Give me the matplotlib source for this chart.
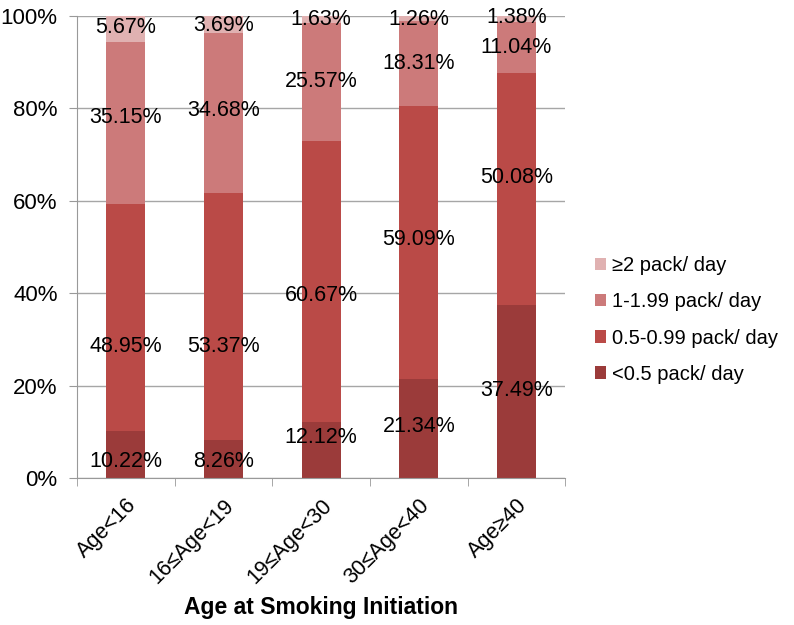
import matplotlib.pyplot as plt
import numpy as np

plt.rcParams['font.family'] = ['Liberation Sans', 'DejaVu Sans']

groups = ['Age<16', '16≤Age<19', '19≤Age<30', '30≤Age<40', 'Age≥40']
series = ['<0.5 pack/ day', '0.5-0.99 pack/ day', '1-1.99 pack/ day', '≥2 pack/ day']
lt_05 = [10.22, 8.26, 12.12, 21.34, 37.49]
p05_099 = [48.95, 53.37, 60.67, 59.09, 50.08]
p1_199 = [35.15, 34.68, 25.57, 18.31, 11.04]
ge_2 = [5.67, 3.69, 1.63, 1.26, 1.38]
colors = ['#9b3b3a', '#ba4a47', '#cc7a7a', '#e0b1b1']

# label nudges (percentage points) away from the segment centre
nudges = [
    [-1.6, -0.6, 2.8, 0.5, 0.1],
    [-6.2, -6.4, -3.0, 0.7, 2.5],
    [1.3, 0.5, 0.1, 0.1, 0.0],
    [0.2, -0.2, -0.1, -0.3, 0.3],
]

fig = plt.figure(figsize=(7.94, 6.25), dpi=100)
ax = fig.add_axes([0.097, 0.235, 0.615, 0.74])

x = np.arange(len(groups)) + 0.5
bottom = np.zeros(len(groups))
for i, vals in enumerate([lt_05, p05_099, p1_199, ge_2]):
    vals = np.array(vals)
    ax.bar(x, vals, 0.4, bottom=bottom, color=colors[i], label=series[i], zorder=2)
    for j in range(len(groups)):
        ax.text(x[j], bottom[j] + vals[j] / 2 + nudges[i][j], f'{vals[j]:.2f}%',
                ha='center', va='center', fontsize=15.5, zorder=3)
    bottom += vals

ax.set_xlim(0, len(groups))
ax.set_ylim(0, 100)
ax.set_yticks(np.arange(0, 101, 20))
ax.set_yticklabels([f'{v}%' for v in range(0, 101, 20)], fontsize=16)
ax.set_xticks(x)
ax.set_xticklabels(groups, rotation=45, ha='right', rotation_mode='anchor', fontsize=15.5)
ax.set_xticks(np.arange(0, len(groups) + 1), minor=True)
ax.tick_params(axis='x', which='major', length=0, pad=12)
ax.tick_params(axis='x', which='minor', length=6, color='#999999')
ax.tick_params(axis='y', length=6, color='#999999', pad=8)
ax.yaxis.grid(True, color='#a6a6a6', linewidth=1, zorder=0)
for s in ['top', 'right']:
    ax.spines[s].set_visible(False)
for s in ['left', 'bottom']:
    ax.spines[s].set_color('#999999')

ax.set_xlabel('Age at Smoking Initiation', fontsize=16.5, fontweight='bold', labelpad=6)

h, l = ax.get_legend_handles_labels()
fig.legend(h[::-1], l[::-1], loc='center left', bbox_to_anchor=(0.727, 0.488),
           frameon=False, fontsize=14.5, handlelength=0.55, handleheight=0.55,
           handletextpad=0.3, labelspacing=0.85)

fig.savefig('out.png', dpi=100)
